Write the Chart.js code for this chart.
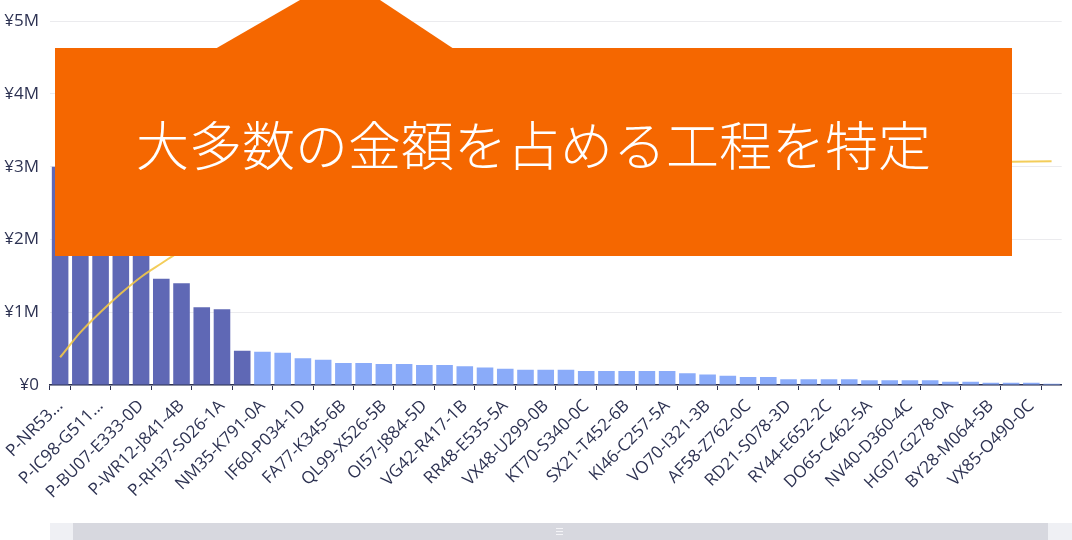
<!DOCTYPE html>
<html>
<head>
<meta charset="utf-8">
<script src="https://cdn.jsdelivr.net/npm/chart.js@4.4.1/dist/chart.umd.min.js"></script>
<style>
  html, body { margin:0; padding:0; background:#ffffff; overflow:hidden; width:1072px; height:540px; }
  #wrap { position:absolute; left:0; top:0; width:1072px; height:520px; }
  #tail { position:absolute; left:215px; top:0; width:239px; height:49px; background:#f56700;
          clip-path: polygon(0 100%, 85px 0, 165px 0, 239px 100%); }
  #callout { position:absolute; left:55px; top:48px; width:957px; height:208px; background:#f56700; }
  #callout-text { position:absolute; left:0; top:69px; width:957px; text-align:center; color:#ffffff;
          font-family:"Noto Sans CJK JP","Noto Sans CJK SC",sans-serif; font-size:53px; font-weight:300;
          line-height:53px; white-space:nowrap; }
  #scroll { position:absolute; left:50px; top:523px; width:1022px; height:17px; background:#eff0f4; }
  #thumb { position:absolute; left:23px; top:0; width:975px; height:17px; background:#d7d8df; }
  #grip { position:absolute; left:483px; top:5px; width:7px; height:7px;
          border-top:1px solid #f4f4f7; border-bottom:1px solid #f4f4f7; box-sizing:border-box; }
  #grip:after { content:""; position:absolute; left:0; top:2px; width:7px; height:1px; background:#f4f4f7; }
</style>
</head>
<body>
<div id="wrap"><canvas id="c"></canvas></div>
<div id="tail"></div>
<div id="callout"><div id="callout-text">大多数の金額を占める工程を特定</div></div>
<div id="scroll"><div id="thumb"><div id="grip"></div></div></div>
<script>
// Categories (tick labels as shown; unlabeled bars between them are blank)
const categories = [
  'P-NR53...', '', 'P-IC98-G511...', '', 'P-BU07-E333-0D', '', 'P-WR12-J841-4B', '',
  'P-RH37-S026-1A', '', 'NM35-K791-0A', '', 'IF60-P034-1D', '', 'FA77-K345-6B', '',
  'QL99-X526-5B', '', 'OI57-J884-5D', '', 'VG42-R417-1B', '', 'RR48-E535-5A', '',
  'VX48-U299-0B', '', 'KT70-S340-0C', '', 'SX21-T452-6B', '', 'KI46-C257-5A', '',
  'VO70-I321-3B', '', 'AF58-Z762-0C', '', 'RD21-S078-3D', '', 'RY44-E652-2C', '',
  'DO65-C462-5A', '', 'NV40-D360-4C', '', 'HG07-G278-0A', '', 'BY28-M064-5B', '',
  'VX85-O490-0C', ''
];

// Amount per process (yen)
const amounts = [
  3000000, 2700000, 2200000, 2000000, 1800000, 1460000, 1400000, 1070000, 1040000, 470000,
  457000, 443000, 366000, 347000, 302000, 302000, 288000, 288000, 274000, 274000,
  256000, 242000, 224000, 210000, 210000, 210000, 192000, 192000, 192000, 192000,
  192000, 160000, 146000, 128000, 110000, 110000, 78000, 78000, 78000, 78000,
  64000, 64000, 64000, 64000, 46000, 46000, 32000, 32000, 32000, 18000
];

// Cumulative share (%)
const cumulativePct = [
  12.4, 23.5, 32.6, 40.9, 48.3, 54.3, 60.1, 64.5, 68.8, 70.8,
  72.7, 74.5, 76.0, 77.4, 78.7, 79.9, 81.1, 82.3, 83.4, 84.6,
  85.6, 86.6, 87.5, 88.4, 89.3, 90.1, 90.9, 91.7, 92.5, 93.3,
  94.1, 94.8, 95.4, 95.9, 96.3, 96.8, 97.1, 97.4, 97.8, 98.1,
  98.4, 98.6, 98.9, 99.1, 99.3, 99.5, 99.7, 99.8, 99.9, 100
];

// Y axis ticks (yen)
const yTicks = [0, 1000000, 2000000, 3000000, 4000000, 5000000];

const HIGHLIGHT_COUNT = 10;
const DARK = '#5f68b5';
const LIGHT = '#8aabf9';
const TEXT = '#2d3252';
const FONT = '"Open Sans", "Noto Sans", sans-serif';

new Chart(document.getElementById('c'), {
  data: {
    labels: categories,
    datasets: [
      {
        type: 'line',
        data: cumulativePct,
        yAxisID: 'y1',
        borderColor: 'rgba(242,200,72,0.9)',
        borderWidth: 2,
        pointRadius: 0,
        cubicInterpolationMode: 'monotone',
        order: 1
      },
      {
        type: 'bar',
        data: amounts,
        yAxisID: 'y',
        backgroundColor: amounts.map((v, i) => i < HIGHLIGHT_COUNT ? DARK : LIGHT),
        barPercentage: 0.82,
        categoryPercentage: 1.0,
        order: 2
      }
    ]
  },
  options: {
    responsive: true,
    maintainAspectRatio: false,
    animation: false,
    layout: { padding: { top: 12, left: 0, right: 0, bottom: 0 } },
    plugins: { legend: { display: false }, tooltip: { enabled: false } },
    scales: {
      x: {
        offset: true,
        grid: {
          offset: true,
          drawOnChartArea: false,
          drawTicks: true,
          tickLength: 5,
          color: (ctx) => (ctx.index === 0 || ctx.index % 2 === 1) ? TEXT : 'rgba(0,0,0,0)'
        },
        border: { display: true, color: TEXT, width: 1.5 },
        ticks: {
          autoSkip: false,
          minRotation: 45,
          maxRotation: 45,
          padding: 6,
          color: TEXT,
          font: { family: FONT, size: 17 }
        },
        afterFit: (s) => { s.height = 135; }
      },
      y: {
        min: 0,
        max: 5000000,
        afterBuildTicks: (s) => { s.ticks = yTicks.map(v => ({ value: v })); },
        grid: { color: '#ebebee', drawTicks: false, lineWidth: 1 },
        border: { display: false },
        ticks: {
          padding: 11,
          color: TEXT,
          font: { family: FONT, size: 17 },
          callback: (v) => v === 0 ? '¥0' : '¥' + (v / 1000000) + 'M'
        },
        afterFit: (s) => { s.width = 50; }
      },
      y1: {
        display: false,
        min: 0,
        max: 162.6
      }
    }
  }
});
</script>
</body>
</html>
